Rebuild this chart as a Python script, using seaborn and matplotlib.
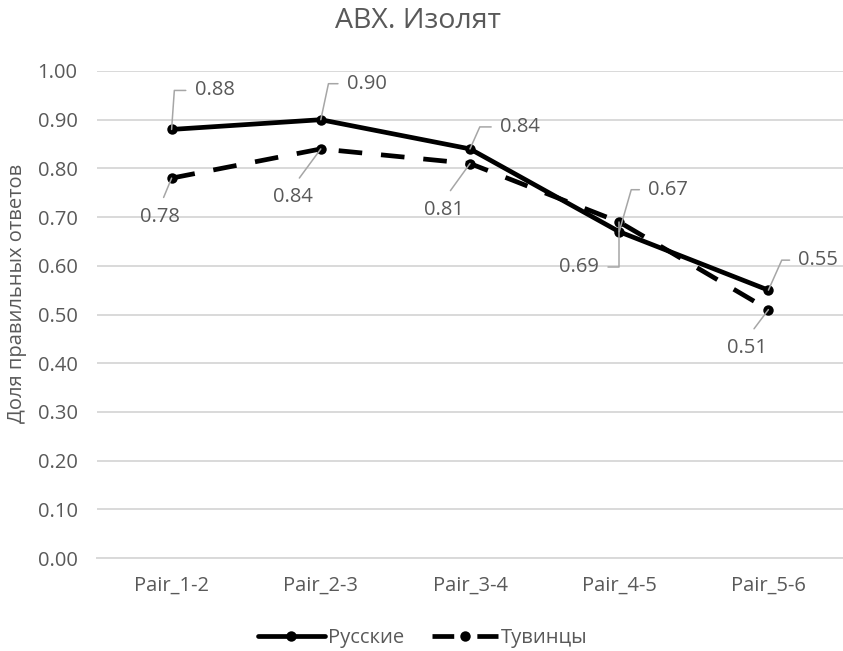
import matplotlib
matplotlib.use("Agg")
import matplotlib.pyplot as plt
import seaborn as sns
import pandas as pd

# Data
pairs = ["Pair_1-2", "Pair_2-3", "Pair_3-4", "Pair_4-5", "Pair_5-6"]
russians = [0.88, 0.90, 0.84, 0.67, 0.55]
tuvans = [0.78, 0.84, 0.81, 0.69, 0.51]
series_names = ["Русские", "Тувинцы"]
title = "ABX. Изолят"
y_label = "Доля правильных ответов"
y_ticks = [0.0, 0.1, 0.2, 0.3, 0.4, 0.5, 0.6, 0.7, 0.8, 0.9, 1.0]

df = pd.DataFrame({
    "pair": pairs * 2,
    "value": russians + tuvans,
    "group": [series_names[0]] * len(pairs) + [series_names[1]] * len(pairs),
})

sns.set_theme(style="white")
plt.rcParams["font.family"] = ["Open Sans", "DejaVu Sans"]

TEXT = "#595959"
GRID = "#D9D9D9"
LEADER = "#A6A6A6"
FS = 14.5
LW = 3.4
MS = 7.5

fig = plt.figure(figsize=(8.43, 6.51), dpi=100)
W, H = 843, 651
ax = fig.add_axes([97 / W, (H - 558) / H, (843 - 97) / W, (558 - 71) / H])

sns.lineplot(
    data=df, x="pair", y="value", hue="group", style="group",
    palette={series_names[0]: "black", series_names[1]: "black"},
    dashes={series_names[0]: "", series_names[1]: (5, 4)},
    markers={series_names[0]: "o", series_names[1]: "o"},
    markersize=MS, markeredgecolor="black", markeredgewidth=0,
    linewidth=LW, sort=False, legend=False, ax=ax, zorder=3,
)

ax.set_xlim(-0.5, len(pairs) - 0.5)
ax.set_ylim(0, 1.0)
ax.set_yticks(y_ticks)
ax.set_yticklabels([f"{t:.2f}" for t in y_ticks])
ax.yaxis.grid(True, color=GRID, linewidth=1.4)
ax.xaxis.grid(False)
for side in ["left", "right", "top"]:
    ax.spines[side].set_visible(False)
ax.spines["bottom"].set_color(GRID)
ax.spines["bottom"].set_linewidth(1.4)
ax.tick_params(axis="both", length=0, labelsize=FS, colors=TEXT)
ax.tick_params(axis="y", pad=14)
ax.tick_params(axis="x", pad=13)
ax.set_xlabel("")
ax.set_ylabel("")

# Data labels with leader lines: offsets in pixels (dx, dy), and leader angle
# Русские labels sit above-right with an elbow leader
upper_offsets = [(23, 39), (26, 36), (30, 22), (29, 42), (30, 30)]
upper_angles = [86, 78, 66, 74, 66]
for i, (v, (dx, dy), ang) in enumerate(zip(russians, upper_offsets, upper_angles)):
    ax.annotate(
        f"{v:.2f}", xy=(i, v), xytext=(dx, dy), textcoords="offset pixels",
        ha="left", va="center", fontsize=FS, color=TEXT,
        arrowprops=dict(arrowstyle="-", color=LEADER, lw=1.1,
                        connectionstyle=f"angle,angleA=0,angleB={ang},rad=0",
                        relpos=(0, 0.5), shrinkA=4, shrinkB=0),
        annotation_clip=False, zorder=4,
    )

# Тувинцы labels sit below with a straight leader (elbow for Pair_4-5)
lower_offsets = [(-12, -39), (-28, -48), (-26, -46), (-20, -45), (-21, -38)]
for i, (v, (dx, dy)) in enumerate(zip(tuvans, lower_offsets)):
    if i == 3:
        ax.annotate(
            f"{v:.2f}", xy=(i, v), xytext=(dx, dy), textcoords="offset pixels",
            ha="right", va="center", fontsize=FS, color=TEXT,
            arrowprops=dict(arrowstyle="-", color=LEADER, lw=1.1,
                            connectionstyle="angle,angleA=0,angleB=90,rad=0",
                            relpos=(1, 0.5), shrinkA=4, shrinkB=0),
            annotation_clip=False, zorder=4,
        )
    else:
        ax.annotate(
            f"{v:.2f}", xy=(i, v), xytext=(dx, dy), textcoords="offset pixels",
            ha="center", va="center", fontsize=FS, color=TEXT,
            arrowprops=dict(arrowstyle="-", color=LEADER, lw=1.1,
                            relpos=(0.5, 1.0), shrinkA=5, shrinkB=0),
            annotation_clip=False, zorder=4,
        )

fig.text(418 / W, 1 - 21 / H, title, ha="center", va="center",
         fontsize=20.5, color=TEXT)
fig.text(17 / W, 1 - 293 / H, y_label, ha="center", va="center",
         rotation=90, fontsize=FS, color=TEXT)

# Legend: dashed handle shows dash - marker - dash
handles = [
    plt.Line2D([], [], color="black", lw=LW, marker="o", markersize=MS,
               markeredgewidth=0),
    plt.Line2D([], [], color="black", lw=LW, marker="o", markersize=MS,
               markeredgewidth=0, dashes=(4.6, 4.9)),
]
fig.legend(handles, series_names, loc="center", ncol=2,
           bbox_to_anchor=(423 / W, 1 - 638 / H), frameon=False,
           fontsize=FS, labelcolor=TEXT, handlelength=3.3,
           handletextpad=0.15, columnspacing=1.4)

fig.savefig("out.png", dpi=100, facecolor="white")
